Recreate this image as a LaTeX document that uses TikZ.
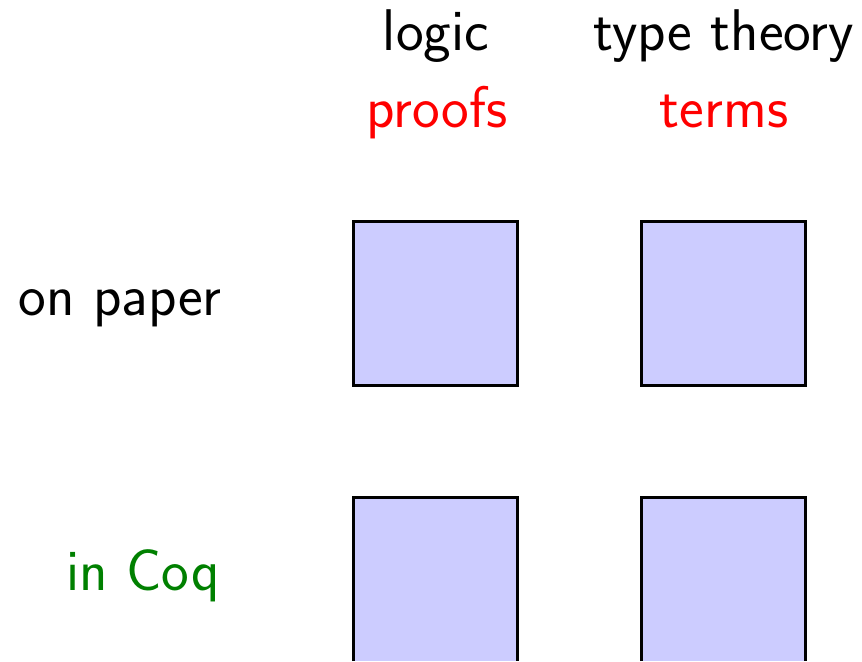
\documentclass[tikz,border=0pt]{standalone}
\begin{document}
\begin{tikzpicture}[x=0.5pt, y=-0.5pt, line width=1.5pt,
    every node/.style={font=\sffamily\fontsize{29.4pt}{35pt}\selectfont, inner sep=0pt},
    cell/.style={draw=black, fill=blue!20, minimum size=82pt},
    cutcell/.style={fill=blue!20, minimum size=82pt, outer sep=0pt}]
  \useasboundingbox (0,0) rectangle (862,661);
  % 열 제목
  \node[anchor=base] (logic) at (436,50) {logic};
  \node[anchor=base] (tt) at (724,50) {type theory};
  \node[anchor=base, text=red] (proofs) at (437,127) {proofs};
  \node[anchor=base, text=red] (terms) at (724,127) {terms};
  % 행 제목
  \node[anchor=base east] (paper) at (223,315) {on paper};
  \node[anchor=base east, text=green!50!black] (coq) at (221,590) {in Coq};
  % 네모 칸
  \node[cell] (paperlogic) at (435.5,303.5) {};
  \node[cell] (papertt) at (723.5,303.5) {};
  % 아래 칸은 그림 끝에서 잘림
  \node[cutcell] (coqlogic) at (435.5,579) {};
  \node[cutcell] (coqtt) at (723.5,579) {};
  \draw (coqlogic.south west) |- (coqlogic.north east) -- (coqlogic.south east);
  \draw (coqtt.south west) |- (coqtt.north east) -- (coqtt.south east);
\end{tikzpicture}
\end{document}
